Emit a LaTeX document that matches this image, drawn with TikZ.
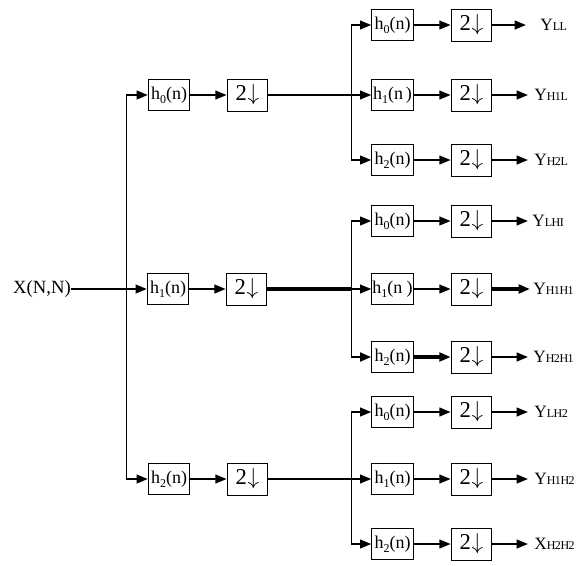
\documentclass[tikz,border=0pt]{standalone}
\usepackage{fontspec}
\setmainfont{Liberation Serif}
\newfontfamily\subfont[LetterSpace=-4]{Liberation Serif}
\usetikzlibrary{arrows.meta}
\newcommand\hsb[1]{\raisebox{-0.45ex}{\fontsize{9}{9}\selectfont #1}}
\newcommand\ysb[1]{{\subfont\fontsize{9}{9}\selectfont #1}}
\newcommand\dn{2\kern0.5pt$\downarrow$}
\begin{document}
\begin{tikzpicture}[x=0.75pt,y=-0.75pt,
  hbox/.style={draw, line width=0.7pt, minimum width=31pt, minimum height=23.5pt, inner sep=0pt, font=\fontsize{13.5}{13.5}\selectfont},
  dbox/.style={draw, line width=0.7pt, minimum width=30.5pt, minimum height=24pt, inner sep=0pt, font=\fontsize{17}{17}\selectfont},
  conn/.style={line width=1.5pt},
  arr/.style={line width=1.5pt, -{Triangle[length=8.5pt,width=6.5pt]}},
  thk/.style={line width=3pt},
  vline/.style={line width=0.7pt},
  lbl/.style={anchor=west, inner sep=0pt, font=\fontsize{13}{14}\selectfont}]
\useasboundingbox (0,0) rectangle (578,565);
% ---- stage 1 ----
\coordinate (s1t) at (126,95);
\coordinate (s1m) at (126,289);
\coordinate (s1b) at (126,479);
\node[lbl, anchor=east, font=\fontsize{14}{14}\selectfont] (x) at (71,289) {X(N,N)};
\node[hbox] (a0) at (169,95) {h\hsb{0}(n)};
\node[hbox] (a1) at (168,289) {h\hsb{1}(n)};
\node[hbox] (a2) at (169,479) {h\hsb{2}(n)};
\node[dbox] (b0) at (247.5,95) {\dn};
\node[dbox] (b1) at (246.5,289) {\dn};
\node[dbox] (b2) at (247.5,479) {\dn};
\draw[conn] (x.east) -- (s1m);
\draw[vline] (s1t) -- (s1b);
\draw[arr] (s1t) -- (a0.west);
\draw[arr] (s1m) -- (a1.west);
\draw[arr] (s1b) -- (a2.west);
\draw[arr] (a0.east) -- (b0.west);
\draw[arr] (a1.east) -- (b1.west);
\draw[arr] (a2.east) -- (b2.west);
% ---- stage 2, group 1 ----
\coordinate (g1a) at (351,25);
\coordinate (g1b) at (351,95);
\coordinate (g1c) at (351,160);
\node[hbox] (c10) at (392.5,25) {h\hsb{0}(n)};
\node[hbox] (c11) at (392.5,95) {h\hsb{1}(n\,)};
\node[hbox] (c12) at (392.5,160) {h\hsb{2}(n)};
\node[dbox] (d10) at (471.5,25) {\dn};
\node[dbox] (d11) at (471.5,95) {\dn};
\node[dbox] (d12) at (471.5,160) {\dn};
\coordinate (o10) at (526,25);
\coordinate (o11) at (528,95);
\coordinate (o12) at (528,160);
\node[lbl] (y10) at (540,25) {Y\ysb{LL}};
\node[lbl] (y11) at (534,95) {Y\ysb{H1L}};
\node[lbl] (y12) at (534,160) {Y\ysb{H2L}};
\draw[vline] (g1a) -- (g1c);
\draw[arr] (b0.east) -- (c11.west);
\draw[arr] (g1a) -- (c10.west);
\draw[arr] (g1c) -- (c12.west);
\draw[arr] (c10.east) -- (d10.west);
\draw[arr] (c11.east) -- (d11.west);
\draw[arr] (c12.east) -- (d12.west);
\draw[arr] (d10.east) -- (o10);
\draw[arr] (d11.east) -- (o11);
\draw[arr] (d12.east) -- (o12);
% ---- stage 2, group 2 ----
\coordinate (g2a) at (351,221);
\coordinate (g2b) at (351,289);
\coordinate (g2c) at (351,357);
\node[hbox] (c20) at (392.5,221) {h\hsb{0}(n)};
\node[hbox] (c21) at (392.5,289) {h\hsb{1}(n )};
\node[hbox] (c22) at (392.5,357) {h\hsb{2}(n)};
\node[dbox] (d20) at (471.5,221) {\dn};
\node[dbox] (d21) at (471.5,289) {\dn};
\node[dbox] (d22) at (471.5,357) {\dn};
\coordinate (o20) at (528,221);
\coordinate (o21) at (530,289);
\coordinate (o22) at (528,357);
\node[lbl] (y20) at (532,221) {Y\ysb{LHI}};
\node[lbl] (y21) at (533,289) {Y\ysb{H1H1}};
\node[lbl] (y22) at (533,357) {Y\ysb{H2H1}};
\draw[vline] (g2a) -- (g2c);
\draw[thk] (b1.east) -- (g2b);
\draw[arr] (g2b) -- (c21.west);
\draw[arr] (g2a) -- (c20.west);
\draw[arr, line width=2.2pt] (g2c) -- (c22.west);
\draw[arr] (c20.east) -- (d20.west);
\draw[arr] (c21.east) -- (d21.west);
\draw[arr, line width=3pt] (c22.east) -- (d22.west);
\draw[arr] (d20.east) -- (o20);
\draw[arr, line width=3pt] (d21.east) -- (o21);
\draw[arr] (d22.east) -- (o22);
% ---- stage 2, group 3 ----
\coordinate (g3a) at (351,412);
\coordinate (g3b) at (351,479);
\coordinate (g3c) at (351,544);
\node[hbox] (c30) at (392.5,412) {h\hsb{0}(n)};
\node[hbox] (c31) at (392.5,479) {h\hsb{1}(n)};
\node[hbox] (c32) at (392.5,544) {h\hsb{2}(n)};
\node[dbox] (d30) at (471.5,412) {\dn};
\node[dbox] (d31) at (471.5,479) {\dn};
\node[dbox] (d32) at (471.5,544) {\dn};
\coordinate (o30) at (528,412);
\coordinate (o31) at (528,479);
\coordinate (o32) at (528,544);
\node[lbl] (y30) at (534,412) {Y\ysb{LH2}};
\node[lbl] (y31) at (534,479) {Y\ysb{H1H2}};
\node[lbl] (y32) at (534,544) {X\ysb{H2H2}};
\draw[vline] (g3a) -- (g3c);
\draw[arr] (b2.east) -- (c31.west);
\draw[arr] (g3a) -- (c30.west);
\draw[arr] (g3c) -- (c32.west);
\draw[arr] (c30.east) -- (d30.west);
\draw[arr] (c31.east) -- (d31.west);
\draw[arr] (c32.east) -- (d32.west);
\draw[arr] (d30.east) -- (o30);
\draw[arr] (d31.east) -- (o31);
\draw[arr] (d32.east) -- (o32);
\end{tikzpicture}
\end{document}
